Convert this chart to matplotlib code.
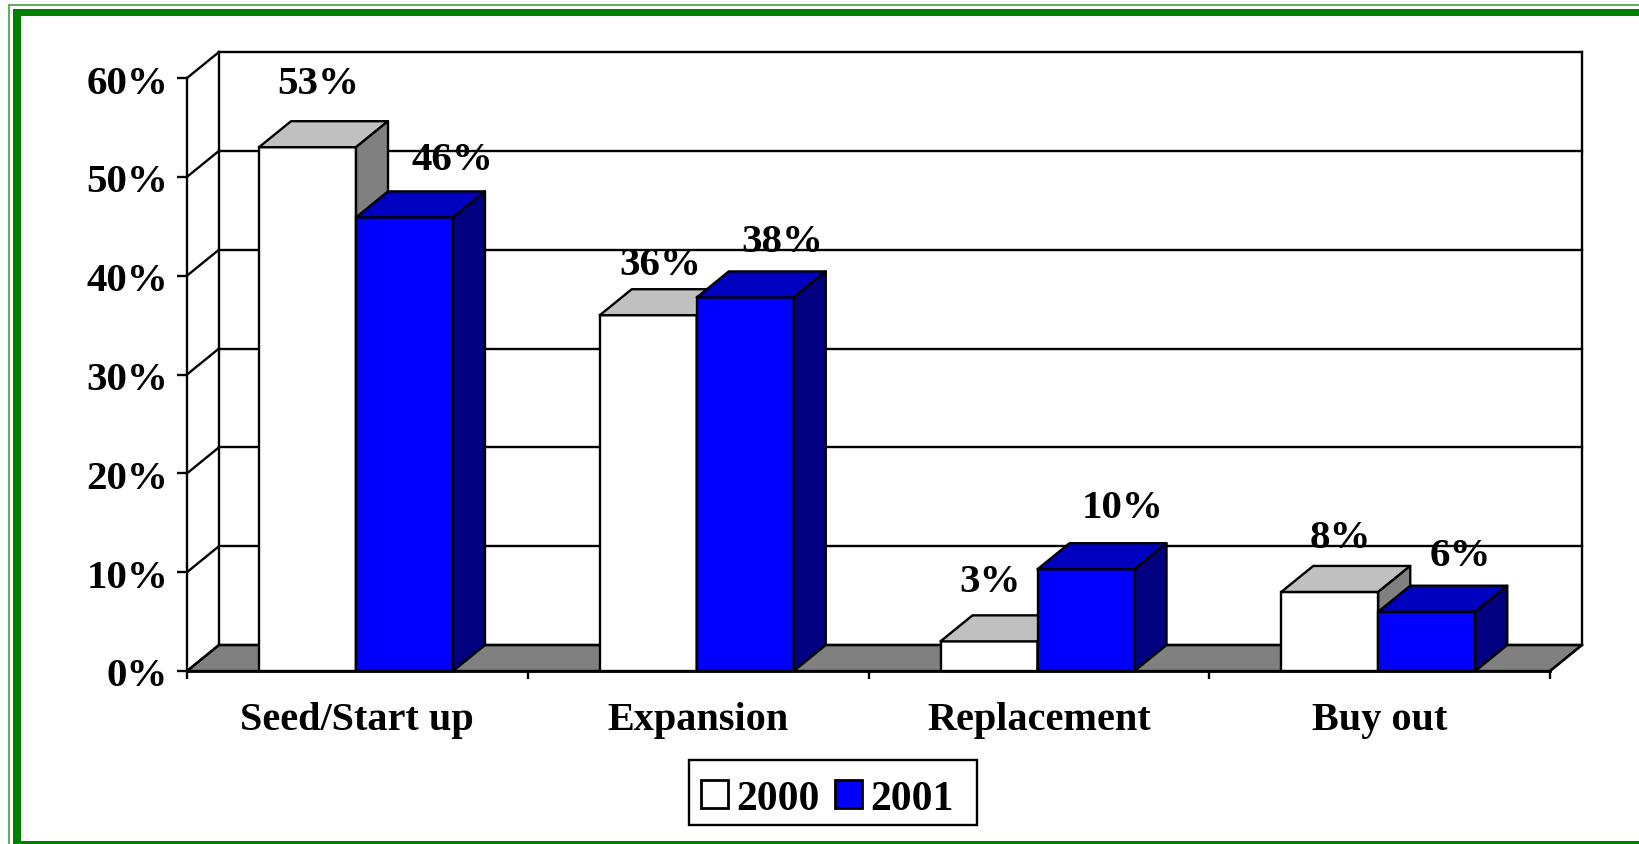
import matplotlib
matplotlib.use('Agg')
import matplotlib.pyplot as plt
from matplotlib.patches import Polygon, Rectangle
from matplotlib.transforms import ScaledTranslation

W, H = 1639, 845

categories = ['Seed/Start up', 'Expansion', 'Replacement', 'Buy out']
values_2000 = [53, 36, 3, 8]
values_2001 = [45.9, 37.8, 10.3, 6]
labels_2000 = ['53%', '36%', '3%', '8%']
labels_2001 = ['46%', '38%', '10%', '6%']
yticks = [0, 10, 20, 30, 40, 50, 60]

# label offsets from bar top centre, pixels
off_2000 = [(11, 64), (12, 51), (1, 60), (11, 54)]
off_2001 = [(48, 58), (37, 56), (37, 62), (34, 56)]

FW = '#000000'
LW = 1.7
depth_x = 32 / 340.75
depth_y = 26 / 9.883
bar_w = 97 / 340.75

plt.rcParams['font.family'] = ['Liberation Serif', 'DejaVu Serif']
plt.rcParams['font.weight'] = 'bold'

fig = plt.figure(figsize=(W / 100, H / 100), dpi=100, facecolor='white')


# green frame, no right edge
def frame(x0, y0, x1, y1, color, edge='none', lw=0):
    fig.add_artist(Rectangle((x0 / W, 1 - y1 / H), (x1 - x0) / W, (y1 - y0) / H,
                             transform=fig.transFigure, facecolor=color, edgecolor=edge, lw=lw))


frame(8, 5, W, 7, '#5fae5f')
frame(8, 5, 10, H, '#5fae5f')
frame(13, 10, W, 17, '#008000')
frame(13, 10, 21, H, '#008000')
frame(13, 842, W, H, '#008000')

# axes box runs from the front-left corner to the back-right corner
ax = fig.add_axes([187 / W, 1 - 672 / H, 1395 / W, 619 / H])
ax.patch.set_visible(False)
ax.set_xlim(0, 1395 / 340.75)
ax.set_ylim(0, 619 / 9.883)
for s in ax.spines.values():
    s.set_visible(False)

n = len(categories)

# floor
ax.add_patch(Polygon([(0, 0), (n, 0), (n + depth_x, depth_y), (depth_x, depth_y)],
                     facecolor='#808080', edgecolor=FW, lw=LW, zorder=1, clip_on=False))

# back wall and side wall
ymax = yticks[-1]
for t in yticks:
    ax.plot([0, depth_x], [t, t + depth_y], color=FW, lw=LW, zorder=1.5, clip_on=False)
    ax.plot([depth_x, n + depth_x], [t + depth_y, t + depth_y], color=FW, lw=LW, zorder=1.2, clip_on=False)
ax.plot([0, 0], [0, ymax], color=FW, lw=LW, zorder=1.5, clip_on=False)
ax.plot([depth_x, depth_x], [depth_y, ymax + depth_y], color=FW, lw=LW, zorder=1.5, clip_on=False)
ax.plot([n + depth_x, n + depth_x], [depth_y, ymax + depth_y], color=FW, lw=LW, zorder=1.5, clip_on=False)
ax.plot([n, n + depth_x], [0, depth_y], color=FW, lw=LW, zorder=1.5, clip_on=False)


def box(x, v, front, top, side, z):
    ax.bar(x, v, bar_w, align='edge', color=front, edgecolor=FW, lw=LW, zorder=z, clip_on=False)
    ax.add_patch(Polygon([(x, v), (x + bar_w, v), (x + bar_w + depth_x, v + depth_y), (x + depth_x, v + depth_y)],
                         facecolor=top, edgecolor=FW, lw=LW, zorder=z, clip_on=False, joinstyle='round'))
    ax.add_patch(Polygon([(x + bar_w, 0), (x + bar_w + depth_x, depth_y), (x + bar_w + depth_x, v + depth_y), (x + bar_w, v)],
                         facecolor=side, edgecolor=FW, lw=LW, zorder=z, clip_on=False, joinstyle='round'))


fs = 29.5
for i in range(n):
    c = i + 0.5 - 0.004
    box(c - bar_w, values_2000[i], 'white', '#c0c0c0', '#808080', 2 + i)
    box(c, values_2001[i], '#0000ff', '#0000c0', '#000080', 2.5 + i)
    ax.annotate(labels_2000[i], (c - bar_w / 2, values_2000[i]), xytext=(off_2000[i][0] * .72, off_2000[i][1] * .72),
                textcoords='offset points', ha='center', va='center', fontsize=fs, zorder=10)
    ax.annotate(labels_2001[i], (c + bar_w / 2, values_2001[i]), xytext=(off_2001[i][0] * .72, off_2001[i][1] * .72),
                textcoords='offset points', ha='center', va='center', fontsize=fs, zorder=10)

# front base line
ax.plot([0, n], [0, 0], color=FW, lw=2, zorder=9, clip_on=False)

ax.set_yticks(yticks)
ax.set_yticklabels([f'{t}%' for t in yticks], fontsize=fs, va='center')
ax.set_xticks(range(n + 1))
ax.set_xticklabels([])
ax.tick_params(axis='y', length=7.5, width=LW, pad=6)
ax.tick_params(axis='x', length=6, width=LW)
shift = ScaledTranslation(0, -5 / 100, fig.dpi_scale_trans)
for lab in ax.get_yticklabels():
    lab.set_transform(lab.get_transform() + shift)
for i, name in enumerate(categories):
    ax.annotate(name, (i + 0.5, 0), xytext=(0, -49 * .72), textcoords='offset points',
                ha='center', va='center', fontsize=29, annotation_clip=False)

# legend box drawn apart so its width can follow the reference
frame(689, 761, 977, 826, 'white', FW, LW)
handles = [Rectangle((0, 0), 1, 1, facecolor='white', edgecolor=FW, lw=2),
           Rectangle((0, 0), 1, 1, facecolor='#0000ff', edgecolor=FW, lw=2)]
leg = fig.legend(handles, ['2000', '2001'], loc='center left', ncol=2,
                 bbox_to_anchor=(688 / W, 1 - 800 / H), fontsize=30, frameon=False,
                 handlelength=0.65, handleheight=0.65,
                 handletextpad=0.2, columnspacing=0.375, borderpad=0.3, borderaxespad=0)

fig.savefig('out.png', dpi=100)
